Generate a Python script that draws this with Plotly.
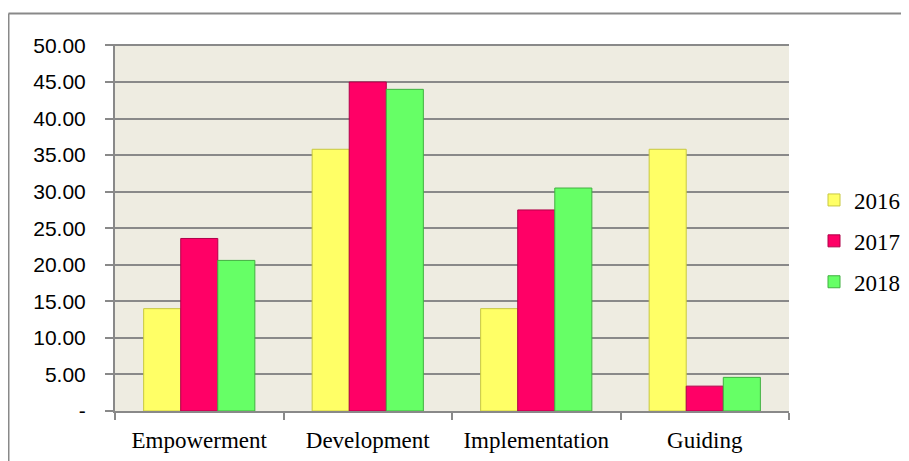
import plotly.graph_objects as go

categories = ["Empowerment", "Development", "Implementation", "Guiding"]
years = ["2016", "2017", "2018"]
values_2016 = [14.0, 35.8, 14.0, 35.8]
values_2017 = [23.6, 45.0, 27.5, 3.4]
values_2018 = [20.6, 44.0, 30.5, 4.6]
series = [values_2016, values_2017, values_2018]
colors = ["#FFFF66", "#FF0066", "#66FF66"]
edge_colors = ["#C8C840", "#B00048", "#40B040"]
tick_vals = [0, 5, 10, 15, 20, 25, 30, 35, 40, 45, 50]
tick_text = ["-", "5.00", "10.00", "15.00", "20.00", "25.00", "30.00", "35.00", "40.00", "45.00", "50.00"]

# page has an 8px body margin; figure coordinates = page coordinates - 8
W, H = 901, 453
ml, mr, mt, mb = 107, 120, 36, 50
pw, ph = W - ml - mr, H - mt - mb

fig = go.Figure()
for name, vals, c, ec in zip(years, series, colors, edge_colors):
    fig.add_trace(go.Bar(
        x=categories, y=vals, name=name, legendgroup=name,
        marker=dict(color=c, line=dict(color=ec, width=1)),
    ))

def px_x(x):
    return (x - ml) / pw

def px_y(y):
    return 1 - (y - mt) / ph

fig.update_layout(
    width=W, height=H,
    margin=dict(l=ml, r=mr, t=mt, b=mb, autoexpand=False),
    paper_bgcolor="white",
    plot_bgcolor="#EEECE1",
    barmode="group",
    bargap=0.34,
    bargroupgap=0,
    showlegend=True,
    legend=dict(
        x=px_x(806), y=px_y(233), xanchor="left", yanchor="middle",
        font=dict(family="Liberation Serif", size=23, color="black"),
        tracegroupgap=8, itemwidth=30, bgcolor="rgba(0,0,0,0)",
    ),
    xaxis=dict(
        showline=True, linecolor="#898989", linewidth=2,
        ticks="outside", ticklen=7, tickcolor="#898989", tickwidth=2,
        tickson="boundaries",
        tickfont=dict(family="Liberation Serif", size=23, color="black"),
        ticklabelstandoff=7,
        showgrid=False,
    ),
    yaxis=dict(
        range=[0, 50.2], tickvals=tick_vals, ticktext=tick_text,
        showline=True, linecolor="#898989", linewidth=2,
        ticks="outside", ticklen=8, tickcolor="#898989", tickwidth=2,
        showgrid=True, gridcolor="#898989", gridwidth=2,
        zeroline=False,
        tickfont=dict(family="Liberation Sans", size=21, color="black"),
        ticklabelstandoff=15,
    ),
    shapes=[
        dict(type="line", xref="paper", yref="paper",
             x0=px_x(0.5), x1=px_x(901), y0=px_y(5.5), y1=px_y(5.5),
             line=dict(color="#898989", width=2)),
        dict(type="line", xref="paper", yref="paper",
             x0=px_x(0.5), x1=px_x(0.5), y0=px_y(5.5), y1=px_y(453),
             line=dict(color="#898989", width=2)),
    ],
)

fig.write_html("out.html")
